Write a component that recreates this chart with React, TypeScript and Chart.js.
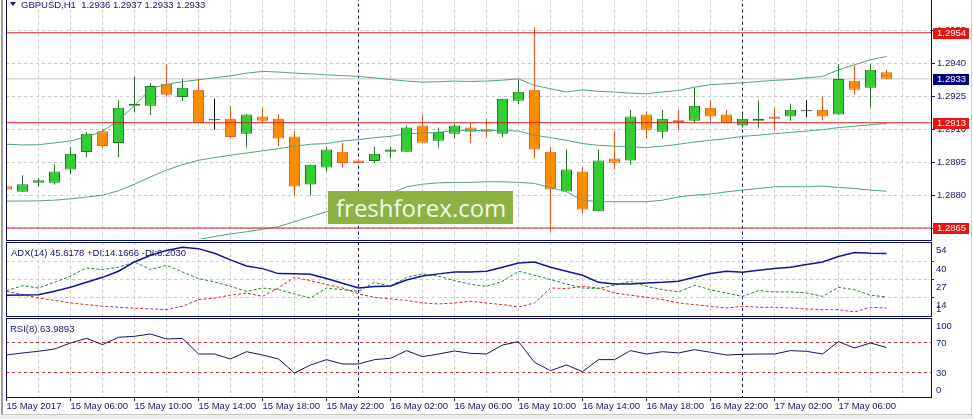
import React, { useEffect, useRef } from 'react';
import { Chart, registerables } from 'chart.js';

Chart.register(...registerables);

// ---------- text ----------
const symbolTitle = 'GBPUSD,H1';
const ohlcTitle = '1.2936 1.2937 1.2933 1.2933';
const adxTitle = 'ADX(14) 45.6178 +DI:14.1666 -DI:6.2030';
const rsiTitle = 'RSI(8) 63.9893';
const watermarkText = 'freshforex.com';

// ---------- time axis (one label every 4 hourly bars, from bar 0) ----------
const timeLabels = [
  '15 May 2017', '15 May 06:00', '15 May 10:00', '15 May 14:00', '15 May 18:00',
  '15 May 22:00', '16 May 02:00', '16 May 06:00', '16 May 10:00', '16 May 14:00',
  '16 May 18:00', '16 May 22:00', '17 May 02:00', '17 May 06:00',
];
const daySeparators = [22, 46];

// ---------- candles ----------
const opens = [
  1.28841, 1.28815, 1.28856, 1.28856, 1.28917, 1.28997, 1.29091, 1.29038, 1.29208, 1.29208,
  1.29308, 1.29247, 1.2928, 1.29141, 1.29148, 1.2908, 1.29158, 1.29148, 1.29067, 1.28848,
  1.28926, 1.28998, 1.28958, 1.28956, 1.28998, 1.28998, 1.29117, 1.29048, 1.2908, 1.29108,
  1.291, 1.2908, 1.2923, 1.2928, 1.28998, 1.28817, 1.28908, 1.28726, 1.28967, 1.28958,
  1.29167, 1.29089, 1.29141, 1.29139, 1.29198, 1.29167, 1.29117, 1.29139, 1.29158, 1.29158,
  1.29182, 1.29189, 1.29167, 1.29321, 1.29289, 1.2936,
];
const highs = [
  1.2885, 1.28891, 1.28876, 1.28941, 1.2902, 1.29088, 1.29103, 1.29232, 1.29341, 1.29311,
  1.29394, 1.2933, 1.2933, 1.29239, 1.29209, 1.2917, 1.29198, 1.29167, 1.29091, 1.28939,
  1.2902, 1.29038, 1.28962, 1.2902, 1.2902, 1.29117, 1.29167, 1.29108, 1.29125, 1.2913,
  1.29148, 1.29239, 1.29326, 1.29565, 1.2902, 1.29009, 1.28929, 1.29008, 1.29091, 1.29189,
  1.29182, 1.29189, 1.29189, 1.29289, 1.29232, 1.29189, 1.29167, 1.29232, 1.29198, 1.29217,
  1.29232, 1.29248, 1.29398, 1.29391, 1.29398, 1.2937,
];
const lows = [
  1.288, 1.28815, 1.28838, 1.28847, 1.28895, 1.28974, 1.29015, 1.28974, 1.29179, 1.29165,
  1.29247, 1.29229, 1.2913, 1.29098, 1.29058, 1.29017, 1.29133, 1.29023, 1.28797, 1.28797,
  1.28906, 1.28926, 1.28944, 1.28947, 1.28967, 1.28998, 1.29039, 1.29017, 1.29058, 1.29038,
  1.29065, 1.29065, 1.29214, 1.28967, 1.28633, 1.28817, 1.28717, 1.28726, 1.28917, 1.28939,
  1.29058, 1.29058, 1.29098, 1.29129, 1.29133, 1.2913, 1.29108, 1.29108, 1.29098, 1.29139,
  1.29156, 1.29139, 1.29167, 1.29258, 1.29198, 1.2933,
];
const closes = [
  1.28826, 1.2885, 1.28868, 1.28908, 1.28989, 1.2908, 1.29024, 1.29198, 1.29217, 1.29298,
  1.29258, 1.29289, 1.2913, 1.29141, 1.29065, 1.29167, 1.29139, 1.29058, 1.28839, 1.28939,
  1.29008, 1.28947, 1.28947, 1.28989, 1.29008, 1.29108, 1.29039, 1.29089, 1.29117, 1.29089,
  1.29089, 1.29239, 1.29271, 1.29008, 1.28826, 1.28917, 1.28735, 1.28958, 1.28948, 1.29158,
  1.29098, 1.29148, 1.29132, 1.29208, 1.29158, 1.2913, 1.29148, 1.29148, 1.29148, 1.29189,
  1.29182, 1.29158, 1.29329, 1.2928, 1.29371, 1.2933,
];

// ---------- Bollinger bands ----------
const bbUpper = [
  1.29032, 1.29029, 1.2903, 1.29038, 1.29047, 1.29065, 1.29091, 1.29141, 1.29209, 1.29285,
  1.29305, 1.29317, 1.29326, 1.29335, 1.29344, 1.29356, 1.29364, 1.29361, 1.29356, 1.29353,
  1.29348, 1.29345, 1.29341, 1.29335, 1.29327, 1.2932, 1.29315, 1.29317, 1.2932, 1.29318,
  1.2932, 1.29324, 1.2933, 1.293, 1.29285, 1.2927, 1.2928, 1.29273, 1.2927, 1.29265,
  1.29262, 1.2927, 1.29277, 1.29292, 1.29303, 1.29308, 1.29312, 1.29318, 1.29323, 1.29327,
  1.29335, 1.29341, 1.29371, 1.29394, 1.29417, 1.29432,
];
const bbMiddle = [
  1.28773, 1.28773, 1.28774, 1.28777, 1.28783, 1.28791, 1.288, 1.2882, 1.2885, 1.28883,
  1.28914, 1.28939, 1.28959, 1.28971, 1.28982, 1.28992, 1.29002, 1.29012, 1.29023, 1.29032,
  1.29035, 1.29047, 1.29053, 1.29062, 1.29068, 1.2908, 1.29083, 1.29086, 1.29095, 1.29095,
  1.29095, 1.29095, 1.29092, 1.29073, 1.29062, 1.2905, 1.29035, 1.29027, 1.29023, 1.2902,
  1.29017, 1.29023, 1.29032, 1.29042, 1.2905, 1.29058, 1.29068, 1.29073, 1.2908, 1.29086,
  1.29092, 1.29098, 1.29108, 1.29114, 1.29121, 1.29126,
];
const bbLower = [
  1.28514, 1.28517, 1.28518, 1.28517, 1.28521, 1.28517, 1.28509, 1.28498, 1.28491, 1.28482,
  1.28523, 1.28562, 1.28598, 1.28611, 1.28623, 1.28633, 1.28644, 1.28656, 1.28679, 1.28702,
  1.28724, 1.28747, 1.28765, 1.28785, 1.28808, 1.28838, 1.2885, 1.28856, 1.28858, 1.28858,
  1.28861, 1.28861, 1.28858, 1.28853, 1.28835, 1.28815, 1.28777, 1.2877, 1.2877, 1.2877,
  1.2877, 1.28777, 1.28792, 1.288, 1.28805, 1.28815, 1.28823, 1.2883, 1.28838, 1.28838,
  1.28838, 1.28841, 1.28835, 1.2883, 1.28823, 1.28818,
];

// ---------- horizontal levels / price axis ----------
const priceTicks = [1.2865, 1.288, 1.2895, 1.291, 1.2925, 1.294, 1.2955, 1.297];
const levelLines = [1.2954, 1.2913, 1.2865];
const lastPrice = 1.2933;

// ---------- ADX(14) ----------
const adx = [
  15.5, 15.7, 15.9, 18.3, 21.2, 24.8, 28.4, 32.8, 39.5, 44.3,
  47.7, 50.1, 49.1, 45.8, 41.0, 36.6, 34.7, 31.1, 30.9, 30.6,
  27.5, 24.1, 20.7, 21.7, 22.2, 26.5, 29.4, 30.9, 32.3, 32.3,
  32.8, 35.7, 38.8, 39.5, 35.7, 32.8, 29.9, 24.8, 23.6, 23.6,
  24.4, 24.8, 25.6, 28.4, 31.1, 32.8, 32.1, 33.5, 34.7, 35.7,
  37.6, 39.5, 43.4, 46.3, 45.8, 45.6,
];
const plusDI = [
  18.8, 22.4, 20.7, 24.8, 29.2, 35.2, 34.0, 35.7, 39.5, 34.0,
  37.1, 32.3, 27.5, 25.1, 21.9, 18.3, 20.7, 19.5, 16.4, 13.5,
  20.7, 19.5, 18.3, 24.8, 21.9, 28.4, 30.9, 29.2, 26.0, 23.4,
  21.9, 25.6, 32.8, 29.9, 26.8, 23.6, 20.7, 20.3, 22.7, 25.6,
  21.9, 19.5, 17.9, 22.7, 19.5, 17.1, 14.7, 18.8, 17.9, 17.9,
  17.1, 14.7, 21.2, 19.5, 15.5, 14.2,
];
const minusDI = [
  18.3, 15.9, 13.5, 11.8, 9.9, 8.7, 7.5, 6.8, 6.1, 5.6,
  5.1, 7.5, 12.3, 13.5, 15.5, 17.1, 14.7, 20.7, 28.4, 26.0,
  23.2, 20.7, 16.4, 14.0, 12.8, 11.8, 9.9, 9.2, 9.9, 11.1,
  9.9, 8.7, 7.0, 9.9, 20.7, 20.3, 21.9, 20.7, 17.1, 15.5,
  14.0, 12.3, 9.9, 8.7, 7.5, 6.3, 7.5, 6.8, 6.8, 6.3,
  5.6, 5.1, 5.1, 3.4, 6.8, 6.2,
];
const adxTicks = [54, 40, 27, 14, 1];
const adxGridLevels = [40, 27, 14];

// ---------- RSI(8) ----------
const rsi = [
  54.0, 56.7, 58.9, 62.0, 70.0, 76.2, 67.8, 77.6, 78.9, 82.0,
  75.3, 76.2, 55.3, 55.3, 48.7, 58.4, 54.0, 48.7, 30.0, 40.7,
  47.8, 42.0, 42.0, 47.8, 49.6, 59.8, 51.8, 55.3, 59.3, 56.2,
  55.3, 67.3, 71.8, 44.2, 33.1, 40.7, 31.8, 47.8, 47.8, 59.8,
  55.3, 58.4, 56.7, 61.1, 57.6, 54.0, 54.9, 55.3, 55.3, 59.8,
  58.9, 55.3, 71.8, 63.3, 70.0, 64.0,
];
const rsiTicks = [100, 70, 30, 0];
const rsiLevels = [70, 30];

// ---------- styling ----------
const NAVY = '#16166e';
const FRAME = '#0c0c64';
const GRID = '#c8c8c8';
const SEP = '#10105a';
const RED = '#d41c1c';
const BOX_RED = '#ee1111';
const BOX_NAVY = '#000080';
const FONT_FAMILY = '"Liberation Sans", Arial, sans-serif';
const FONT_SIZE = 9.5;
const FONT_CSS = `${FONT_SIZE}px ${FONT_FAMILY}`;
const BULL_FILL = '#32cd32';
const BULL_LINE = '#247a24';
const BEAR_FILL = '#ff8c00';
const BEAR_LINE = '#e0601c';
const BAND = '#4fa67a';

const PX_PER_BAR = 16;
const PLOT_LEFT = 6;
const PLOT_RIGHT = 931;
const X_MIN = -1 / 32;
const X_MAX = X_MIN + (PLOT_RIGHT - PLOT_LEFT) / PX_PER_BAR;
const GRID_STEP = 2;
const LABEL_STEP = 4;
const AXIS_W = 42;

const idx = opens.map((_, i) => i);
const gridBars = Array.from({ length: Math.floor(X_MAX / GRID_STEP) + 1 }, (_, k) => k * GRID_STEP);

const candleKind = (i: number) => (closes[i] === opens[i] ? 'doji' : closes[i] > opens[i] ? 'bull' : 'bear');
const bodyFill = (i: number) => ({ doji: '#000', bull: BULL_FILL, bear: BEAR_FILL }[candleKind(i)]);
const bodyLine = (i: number) => ({ doji: '#000', bull: BULL_LINE, bear: BEAR_LINE }[candleKind(i)]);
const wickLine = (i: number) => ({ doji: '#000', bull: BULL_LINE, bear: '#e4541c' }[candleKind(i)]);

const series = (arr: number[]) => arr.map((v, i) => ({ x: i, y: v }));
const flat = (v: number) => [{ x: X_MIN, y: v }, { x: X_MAX, y: v }];

function xScale(showLabels: boolean) {
  return {
    type: 'linear',
    position: 'bottom',
    min: X_MIN,
    max: X_MAX,
    offset: false,
    afterBuildTicks: (s: any) => {
      s.ticks = gridBars.map((v) => ({ value: v }));
    },
    afterFit: (s: any) => {
      s.height = showLabels ? 22 : 0;
    },
    grid: {
      offset: false,
      color: (c: any) => (c.tick && daySeparators.includes(c.tick.value) ? SEP : GRID),
      lineWidth: 1,
      drawTicks: showLabels,
      tickLength: 4,
      tickColor: (c: any) =>
        c.tick && c.tick.value % LABEL_STEP === 0 && timeLabels[c.tick.value / LABEL_STEP] ? NAVY : 'rgba(0,0,0,0)',
      tickBorderDash: [],
    },
    border: { display: false, dash: [3, 3] },
    ticks: {
      display: showLabels,
      autoSkip: false,
      maxRotation: 0,
      minRotation: 0,
      align: 'start',
      padding: 0,
      color: NAVY,
      font: { family: FONT_FAMILY, size: FONT_SIZE },
      callback: (v: number) => (v % LABEL_STEP === 0 ? timeLabels[v / LABEL_STEP] ?? '' : ''),
    },
  };
}

const baseOptions = {
  responsive: false,
  maintainAspectRatio: false,
  animation: false,
  events: [],
};

const priceBoxes = {
  id: 'priceBoxes',
  afterDraw(chart: any) {
    const { ctx, chartArea } = chart;
    const y = chart.scales.y;
    const boxes = [
      ...levelLines.map((v) => ({ v, color: BOX_RED })),
      { v: lastPrice, color: BOX_NAVY },
    ];
    ctx.save();
    ctx.font = FONT_CSS;
    ctx.textBaseline = 'middle';
    ctx.textAlign = 'left';
    boxes.forEach(({ v, color }) => {
      const py = Math.round(y.getPixelForValue(v));
      ctx.fillStyle = color;
      ctx.fillRect(chartArea.right + 2, py - 5, 36, 11);
      ctx.fillStyle = '#ffffff';
      ctx.fillText(v.toFixed(4), chartArea.right + 6, py + 0.5);
    });
    ctx.restore();
  },
};

function sideLabels(values: number[], offset: number) {
  return {
    id: 'sideLabels',
    afterDraw(chart: any) {
      const { ctx, chartArea } = chart;
      const s = chart.scales.y;
      ctx.save();
      ctx.font = FONT_CSS;
      ctx.fillStyle = NAVY;
      ctx.textBaseline = 'middle';
      ctx.textAlign = 'left';
      values.forEach((v) => {
        let py = s.getPixelForValue(v) + offset;
        py = Math.min(Math.max(py, chartArea.top + 8), chartArea.bottom - 7);
        ctx.fillText(String(v), chartArea.right + 5, py);
      });
      ctx.restore();
    },
  };
}

function mainConfig(): any {
  return {
    type: 'bar',
    data: {
      datasets: [
        ...levelLines.map((v) => ({
          type: 'line', data: flat(v), borderColor: RED, borderWidth: 1, pointRadius: 0, order: 0,
        })),
        {
          type: 'bar',
          data: idx.map((i) => ({ x: i, y: [opens[i], closes[i]] })),
          backgroundColor: idx.map(bodyFill),
          borderColor: idx.map(bodyLine),
          borderWidth: 1,
          borderSkipped: false,
          barThickness: 11,
          minBarLength: 1,
          inflateAmount: 0,
          grouped: false,
          order: 2,
        },
        {
          type: 'bar',
          data: idx.map((i) => ({ x: i, y: [lows[i], highs[i]] })),
          backgroundColor: idx.map(wickLine),
          borderWidth: 0,
          barThickness: 1,
          inflateAmount: 0,
          grouped: false,
          order: 3,
        },
        ...[bbUpper, bbMiddle, bbLower].map((arr) => ({
          type: 'line', data: series(arr), borderColor: BAND, borderWidth: 1, pointRadius: 0, tension: 0, order: 1,
        })),
        {
          type: 'line', data: flat(lastPrice), borderColor: '#c4c4c4', borderWidth: 1, pointRadius: 0, order: 5,
        },
      ],
    },
    options: {
      ...baseOptions,
      layout: { padding: { left: PLOT_LEFT, top: 7, right: 0, bottom: 11 }, autoPadding: false },
      plugins: { legend: { display: false }, tooltip: { enabled: false } },
      scales: {
        x: xScale(false),
        y: {
          type: 'linear',
          position: 'right',
          min: 1.286,
          max: 1.297,
          afterBuildTicks: (s: any) => {
            s.ticks = priceTicks.map((v) => ({ value: v }));
          },
          afterFit: (s: any) => {
            s.width = AXIS_W;
          },
          grid: { color: GRID, lineWidth: 1, drawTicks: true, tickLength: 4, tickColor: NAVY, tickBorderDash: [] },
          border: { display: false, dash: [3, 3] },
          ticks: {
            padding: 2,
            color: NAVY,
            font: { family: FONT_FAMILY, size: FONT_SIZE },
            callback: (v: number) => v.toFixed(4),
          },
        },
      },
    },
    plugins: [priceBoxes],
  };
}

function adxConfig(): any {
  return {
    type: 'line',
    data: {
      datasets: [
        { data: series(adx), borderColor: '#1212a0', borderWidth: 1.5, pointRadius: 0, tension: 0 },
        { data: series(plusDI), borderColor: '#1f861f', borderWidth: 1, borderDash: [3, 2], pointRadius: 0, tension: 0 },
        { data: series(minusDI), borderColor: '#c83030', borderWidth: 1, borderDash: [3, 2], pointRadius: 0, tension: 0 },
      ],
    },
    options: {
      ...baseOptions,
      layout: { padding: { left: PLOT_LEFT, top: 12, right: 0, bottom: 14 }, autoPadding: false },
      plugins: { legend: { display: false }, tooltip: { enabled: false } },
      scales: {
        x: xScale(false),
        y: {
          type: 'linear',
          position: 'right',
          min: 0.5,
          max: 53.9,
          afterBuildTicks: (s: any) => {
            s.ticks = adxTicks.map((v) => ({ value: v }));
          },
          afterFit: (s: any) => {
            s.width = AXIS_W;
          },
          grid: {
            color: (c: any) => (c.tick && adxGridLevels.includes(c.tick.value) ? GRID : 'rgba(0,0,0,0)'),
            drawTicks: true,
            tickLength: 3,
            tickColor: (c: any) => (c.tick && adxGridLevels.includes(c.tick.value) ? NAVY : 'rgba(0,0,0,0)'),
            tickBorderDash: [],
          },
          border: { display: false, dash: [3, 3] },
          ticks: { display: false },
        },
      },
    },
    plugins: [sideLabels(adxTicks, 8.5)],
  };
}

function rsiConfig(): any {
  return {
    type: 'line',
    data: {
      datasets: [
        { data: series(rsi), borderColor: '#141460', borderWidth: 1, pointRadius: 0, tension: 0 },
      ],
    },
    options: {
      ...baseOptions,
      layout: { padding: { left: PLOT_LEFT, top: 12, right: 0, bottom: 0 }, autoPadding: false },
      plugins: { legend: { display: false }, tooltip: { enabled: false } },
      scales: {
        x: xScale(true),
        y: {
          type: 'linear',
          position: 'right',
          min: -2,
          max: 103.3,
          afterBuildTicks: (s: any) => {
            s.ticks = rsiTicks.map((v) => ({ value: v }));
          },
          afterFit: (s: any) => {
            s.width = AXIS_W;
          },
          grid: {
            color: (c: any) => (c.tick && rsiLevels.includes(c.tick.value) ? '#c03030' : 'rgba(0,0,0,0)'),
            drawTicks: false,
          },
          border: { display: false, dash: [3, 3] },
          ticks: { display: false },
        },
      },
    },
    plugins: [sideLabels(rsiTicks, 0)],
  };
}

const textStyle: React.CSSProperties = {
  position: 'absolute',
  fontFamily: FONT_FAMILY,
  fontSize: FONT_SIZE,
  lineHeight: '11px',
  whiteSpace: 'pre',
  color: NAVY,
};

function Frame({ top, height }: { top: number; height: number }) {
  return (
    <div
      style={{
        position: 'absolute',
        left: PLOT_LEFT,
        top,
        width: PLOT_RIGHT - PLOT_LEFT + 1,
        height,
        border: `1px solid ${FRAME}`,
        boxSizing: 'border-box',
        pointerEvents: 'none',
      }}
    />
  );
}

export default function App() {
  const mainRef = useRef<HTMLCanvasElement>(null);
  const adxRef = useRef<HTMLCanvasElement>(null);
  const rsiRef = useRef<HTMLCanvasElement>(null);

  useEffect(() => {
    const charts = [
      new Chart(mainRef.current as HTMLCanvasElement, mainConfig()),
      new Chart(adxRef.current as HTMLCanvasElement, adxConfig()),
      new Chart(rsiRef.current as HTMLCanvasElement, rsiConfig()),
    ];
    return () => charts.forEach((c) => c.destroy());
  }, []);

  return (
    <div
      style={{
        position: 'fixed',
        left: 0,
        top: 0,
        width: 973,
        height: 419,
        overflow: 'hidden',
        background: '#ffffff',
      }}
    >
      <canvas ref={mainRef} width={973} height={260} style={{ position: 'absolute', left: 0, top: -10 }} />
      <canvas ref={adxRef} width={973} height={100} style={{ position: 'absolute', left: 0, top: 230 }} />
      <canvas ref={rsiRef} width={973} height={113} style={{ position: 'absolute', left: 0, top: 306 }} />

      <div
        style={{
          position: 'absolute',
          left: 328,
          top: 191,
          width: 185,
          height: 33,
          background: '#8db142',
          color: '#f4f8ec',
          fontFamily: '"Open Sans", sans-serif',
          fontSize: 24,
          lineHeight: '33px',
          paddingLeft: 8,
          boxSizing: 'border-box',
          whiteSpace: 'pre',
        }}
      >
        {watermarkText}
      </div>

      <Frame top={-1} height={242} />
      <Frame top={242} height={75} />
      <Frame top={318} height={80} />

      <div
        style={{
          position: 'absolute',
          left: 10,
          top: 2,
          width: 0,
          height: 0,
          borderLeft: '3px solid transparent',
          borderRight: '3px solid transparent',
          borderTop: `4px solid ${NAVY}`,
        }}
      />
      <div style={{ ...textStyle, left: 21, top: -1 }}>{`${symbolTitle}  ${ohlcTitle}`}</div>
      <div style={{ ...textStyle, left: 11, top: 247 }}>{adxTitle}</div>
      <div style={{ ...textStyle, left: 10, top: 323 }}>{rsiTitle}</div>

      <div style={{ position: 'absolute', left: 1, top: 0, width: 2, height: 419, background: '#9c9c9c' }} />
      <div style={{ position: 'absolute', left: 971, top: 0, width: 1, height: 419, background: '#d0d0d0' }} />
      <div style={{ position: 'absolute', left: 0, top: 414, width: 973, height: 5, background: '#ececec', borderTop: '1px solid #c8c8c8', boxSizing: 'border-box' }} />
    </div>
  );
}
